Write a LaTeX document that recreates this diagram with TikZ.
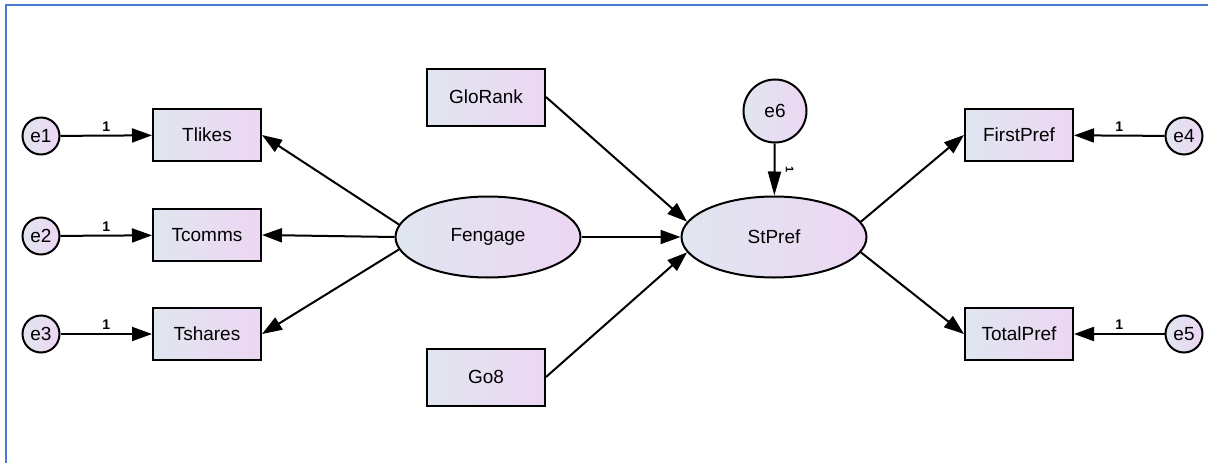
\documentclass[tikz,border=0pt]{standalone}
\usepackage{fontspec}
\setmainfont{Liberation Sans}
\usetikzlibrary{arrows.meta, shapes.geometric}
\definecolor{shadeL}{RGB}{224,230,240}
\definecolor{shadeR}{RGB}{237,214,242}
\definecolor{frameblue}{RGB}{72,120,210}

\begin{document}
\begin{tikzpicture}[x=1pt, y=-1pt, >={Triangle[length=20pt, width=14pt]},
  obs/.style={draw, line width=2pt, left color=shadeL, right color=shadeR,
    minimum width=108pt, minimum height=52pt, inner sep=0pt, font=\fontsize{19}{22}\selectfont},
  lat/.style={ellipse, draw, line width=2pt, left color=shadeL, right color=shadeR,
    minimum width=185pt, minimum height=81pt, inner sep=0pt, font=\fontsize{19}{22}\selectfont},
  err/.style={circle, draw, line width=2pt, left color=shadeL, right color=shadeR,
    minimum size=37pt, inner sep=0pt, font=\fontsize{19}{22}\selectfont},
  path/.style={->, line width=2pt},
  one/.style={font=\fontsize{14}{15}\selectfont\bfseries}]
\useasboundingbox (0,0) rectangle (1208,463);
% frame
\draw[frameblue, line width=2pt] (6,463) -- (6,5) -- (1208,5);
% indicators
\node[obs] (Tlikes)  at (207,135) {Tlikes};
\node[obs] (Tcomms)  at (207,235) {Tcomms};
\node[obs] (Tshares) at (207,334) {Tshares};
\node[obs] (FirstPref) at (1019,135) {FirstPref};
\node[obs] (TotalPref) at (1019,334) {TotalPref};
\node[obs, minimum width=118pt, minimum height=57pt] (GloRank) at (486,97) {GloRank};
\node[obs, minimum width=118pt, minimum height=57pt] (Go8) at (486,377) {Go8};
% latent variables
\node[lat] (Fengage) at (488,237) {Fengage};
\node[lat] (StPref)  at (774,237) {StPref};
% errors
\node[err] (e1) at (41,136) {e1};
\node[err] (e2) at (41,236) {e2};
\node[err] (e3) at (41,334) {e3};
\node[err] (e4) at (1184,136) {e4};
\node[err] (e5) at (1184,334) {e5};
\node[err, minimum size=63pt] (e6) at (775,111) {e6};
% error paths
\draw[path] (e1) -- node[one, above] {1} (Tlikes);
\draw[path] (e2) -- node[one, above] {1} (Tcomms);
\draw[path] (e3) -- node[one, above] {1} (Tshares);
\draw[path] (e4) -- node[one, above] {1} (FirstPref);
\draw[path] (e5) -- node[one, above] {1} (TotalPref);
\draw[path, >={Triangle[length=24pt, width=13pt]}] (e6) -- node[one, pos=0.5, xshift=15pt, rotate=-90, font=\fontsize{11}{12}\selectfont\bfseries] {1} (StPref);
% structural paths
\draw[path] (Fengage.172) -- (Tlikes.east);
\draw[path] (Fengage.west) -- (Tcomms.east);
\draw[path] (Fengage.188) -- (Tshares.east);
\draw[path] (Fengage) -- (StPref);
\draw[path] (GloRank.east) -- (StPref.170);
\draw[path] (Go8.east) -- (StPref.190);
\draw[path] (StPref.10) -- (FirstPref.west);
\draw[path] (StPref.-10) -- (TotalPref.west);
\end{tikzpicture}
\end{document}
